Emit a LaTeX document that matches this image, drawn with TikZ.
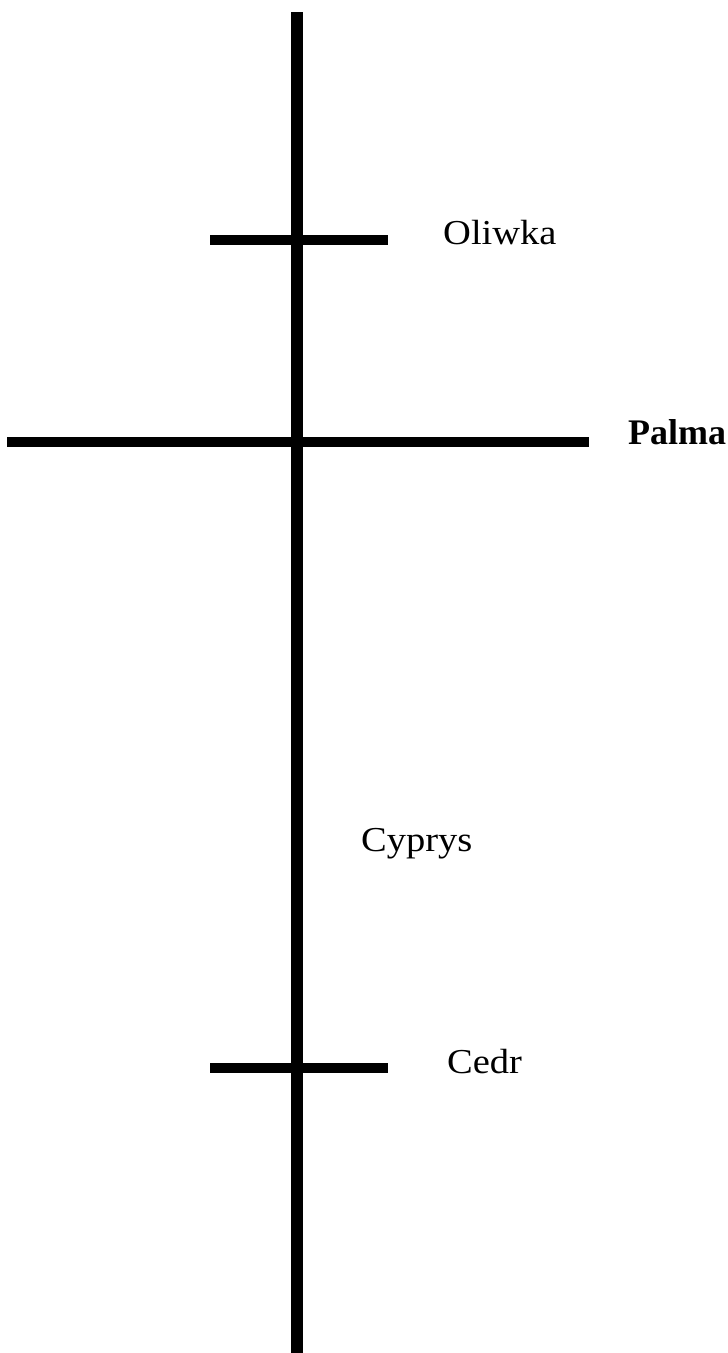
\documentclass[tikz,border=0pt]{standalone}
\usepackage{fontspec}
\setmainfont{Liberation Serif}
\newfontfamily\widefont{Liberation Serif}[FakeStretch=1.1]

\begin{document}
\begin{tikzpicture}[
  x=1pt, y=-1pt,
  trunk/.style={line width=12pt},
  branch/.style={line width=10pt},
  nazwa/.style={
    anchor=base west, inner sep=0pt,
    font=\widefont\fontsize{35}{42}\selectfont
  },
  nazwagruba/.style={
    anchor=base west, inner sep=0pt,
    font=\fontsize{36}{43}\selectfont\bfseries
  }
]
\useasboundingbox (0,0) rectangle (728,1353);

% pien
\coordinate (top)    at (297,12);
\coordinate (bottom) at (297,1353);
\draw[trunk] (top) -- (bottom);

% galezie
\coordinate (oliwkaL) at (210,240);
\coordinate (oliwkaR) at (388,240);
\coordinate (palmaL)  at (7,442);
\coordinate (palmaR)  at (589,442);
\coordinate (cedrL)   at (210,1068);
\coordinate (cedrR)   at (388,1068);

\draw[branch] (oliwkaL) -- (oliwkaR);
\draw[branch] (palmaL)  -- (palmaR);
\draw[branch] (cedrL)   -- (cedrR);

% nazwy
\node[nazwa]      (oliwka) at (443,244)  {Oliwka};
\node[nazwagruba] (palma)  at (628,444)  {Palma};
\node[nazwa]      (cyprys) at (361,851)  {Cyprys};
\node[nazwa]      (cedr)   at (447,1073) {Cedr};

\end{tikzpicture}
\end{document}
